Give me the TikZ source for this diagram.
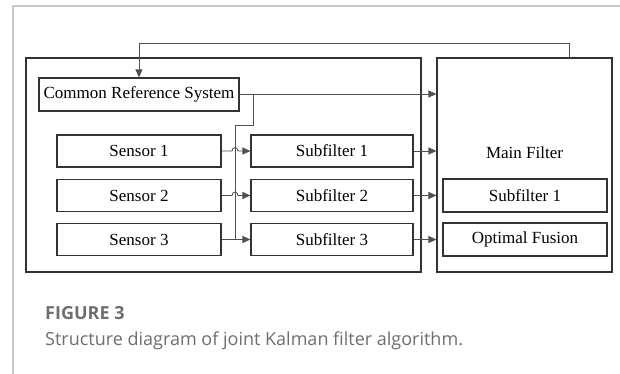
\documentclass[tikz,border=0pt]{standalone}
\usepackage{fontspec}
\setmainfont{Liberation Serif}
\newfontfamily\capfont{Open Sans}
\usetikzlibrary{arrows.meta}
\definecolor{boxline}{HTML}{333333}
\definecolor{wire}{HTML}{505050}
\definecolor{framegray}{HTML}{C8C8C8}
\definecolor{captext}{HTML}{6E6E6E}
\tikzset{
  blk/.style={draw=boxline, line width=1.1pt, minimum height=32pt, inner sep=0pt,
    font=\fontsize{17}{19}\selectfont},
  frame/.style={draw=boxline, line width=1.1pt},
  wirel/.style={draw=wire, line width=0.9pt},
  arr/.style={wirel, -{Triangle[length=8pt, width=7pt]}},
}
\begin{document}
\begin{tikzpicture}[x=1pt, y=-1pt]
\useasboundingbox (0,0) rectangle (620,374);
% page frame
\draw[framegray, line width=1.2pt] (13,374) -- (13,6) -- (620,6);

% outer containers
\node[frame, minimum width=395pt, minimum height=214pt, inner sep=0pt] (left) at (223.5,165) {};
\node[frame, minimum width=175pt, minimum height=214pt, inner sep=0pt] (right) at (524.5,165) {};

% left column
\node[blk, minimum width=200pt, minimum height=33pt] (crs) at (139,94.5) {Common Reference System};
\node[blk, minimum width=164pt] (s1) at (139,151) {Sensor 1};
\node[blk, minimum width=164pt] (s2) at (139,195.5) {Sensor 2};
\node[blk, minimum width=164pt] (s3) at (139,239.5) {Sensor 3};
\node[blk, minimum width=162pt] (f1) at (332,151) {Subfilter 1};
\node[blk, minimum width=162pt] (f2) at (332,195.5) {Subfilter 2};
\node[blk, minimum width=162pt] (f3) at (332,239.5) {Subfilter 3};

% main filter
\node[font=\fontsize{17}{19}\selectfont] (mf) at (524.5,153) {Main Filter};
\node[blk, minimum width=164pt, minimum height=33pt] (mf1) at (525,195.5) {Subfilter 1};
\node[blk, minimum width=164pt, minimum height=33pt] (of) at (525,239.5) {Optimal Fusion};

% feedback from main filter to reference system
\coordinate (fbA) at (569,58);
\draw[arr] (fbA) -- (569,43) -- (139,43) -- (crs.north);

% reference system output
\coordinate (j1) at (253,94);
\draw[arr] (crs.east |- j1) -- (right.west |- j1);
\draw[wirel] (j1) -- (253,125) -- (235,125) -- (235,239.5);

% sensors to subfilters, hopping over the reference line
\draw[arr] (s1.east) -- (232,151) .. controls (232,146.5) and (238,146.5) .. (238,151) -- (f1.west);
\draw[arr] (s2.east) -- (232,195.5) .. controls (232,191) and (238,191) .. (238,195.5) -- (f2.west);
\draw[arr] (s3.east) -- (f3.west);

% subfilters to main filter
\draw[arr] (f1.east) -- (right.west |- f1.east);
\draw[arr] (f2.east) -- (right.west |- f2.east);
\draw[arr] (f3.east) -- (right.west |- f3.east);

% caption
\node[anchor=base west, inner sep=0pt, text=captext, font=\capfont\bfseries\fontsize{18}{21}\selectfont] (figno) at (45,319) {FIGURE 3};
\node[anchor=base west, inner sep=0pt, text=captext, font=\capfont\fontsize{18}{21}\selectfont] (cap) at (45,345) {Structure diagram of joint Kalman filter algorithm.};
\end{tikzpicture}
\end{document}
